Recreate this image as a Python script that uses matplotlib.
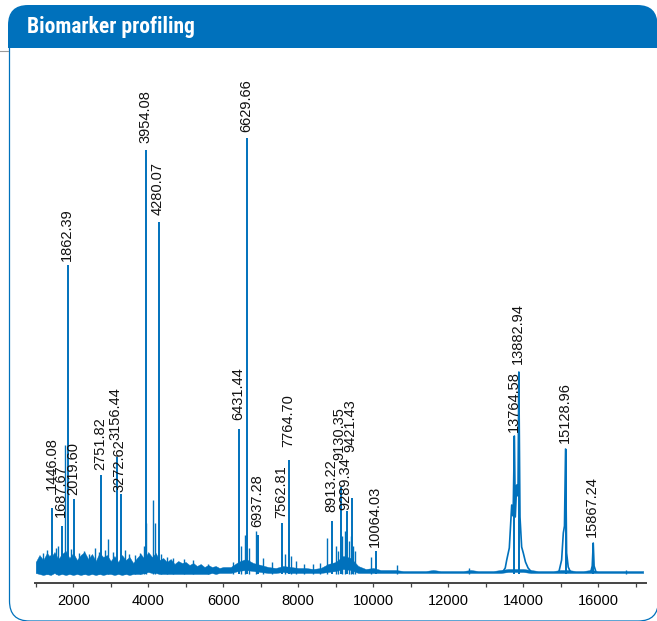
import numpy as np
import matplotlib
matplotlib.use("Agg")
import matplotlib.pyplot as plt
from matplotlib.path import Path
from matplotlib.patches import PathPatch
from matplotlib.ticker import MultipleLocator, NullFormatter
from matplotlib import font_manager

# ---------------- data ----------------
# labelled peaks: m/z and apex intensity (arbitrary units)
peak_mz = [1446.08, 1687.67, 1862.39, 2019.60, 2751.82, 3156.44, 3272.62,
           3954.08, 4280.07, 6431.44, 6629.66, 6937.28, 7562.81, 7764.70,
           8913.22, 9130.35, 9289.34, 9421.43, 10064.03, 13764.58, 13882.94,
           15128.96, 15867.24]
peak_int = [68, 50, 311, 77, 101, 119, 82,
            426, 354, 147, 438, 41, 53, 116,
            55, 89, 65, 78, 25, 140, 204,
            127, 33]

# unlabelled spikes
minor_mz = [1202, 1290, 1380, 1530, 1600, 1775, 1940, 2155, 2290, 2420, 2581,
            2680, 2860, 2935, 3050, 3380, 3500, 3654, 3781, 3880, 3935, 4130,
            4175, 4350, 4503, 4650, 4960, 5196, 5600, 6250, 6480, 6581, 6700,
            6874, 7050, 7300, 7650, 7820, 7941, 8150, 8400, 8581, 8759, 9000,
            9060, 9180, 9250, 9350, 9400, 9460, 9520, 9933, 10626, 12562, 16740]
minor_int = [23, 26, 21, 28, 30, 131, 27, 23, 25, 22, 28,
             24, 26, 37, 24, 26, 22, 21, 23, 30, 53, 76,
             53, 22, 19, 18, 17, 16, 12, 14, 30, 41, 28,
             45, 18, 14, 22, 20, 15, 12, 12, 13, 38, 30,
             25, 40, 45, 35, 40, 30, 25, 19, 11, 8, 6]

# broad peak outlines
cluster_mz = [13450, 13520, 13560, 13629, 13693, 13730, 13764.58, 13789,
              13825, 13860, 13882.94, 13914, 13958, 14002, 14060, 14130, 14220]
cluster_int = [4, 8, 16, 28, 71, 60, 140, 59, 91, 80, 204, 59, 29, 23, 14, 8, 4]
p15129_mz = [14950, 15024, 15069, 15100, 15128.96, 15157, 15200, 15260]
p15129_int = [4, 16, 43, 50, 127, 23, 9, 4]
p15867_mz = [15800, 15840, 15867.24, 15890, 15940]
p15867_int = [4, 10, 33, 10, 4]

# noise band (lower / upper envelope)
env_mz = list(range(1000, 6001, 100)) + list(range(6200, 17201, 200))
env_hi = [14, 21, 16, 23, 18, 24, 17, 22, 25, 18,
          23, 16, 21, 24, 17, 22, 15, 23, 19, 21,
          15, 20, 14, 21, 16, 19, 13, 18, 22, 17,
          24, 19, 23, 16, 18, 14, 17, 12, 15, 13,
          14, 11, 13, 10, 12, 9, 11, 9, 10, 8, 9,
          # 6200 .. 17200 step 200
          9, 14, 17, 13, 11, 9, 8, 10, 9, 8,
          8, 7, 8, 12, 14, 20, 18, 10, 7, 8,
          6, 6, 6, 5, 5, 5, 5, 6, 5, 5,
          5, 5, 6, 5, 5, 5, 6, 7, 7, 7,
          6, 5, 5, 5, 6, 6, 5, 5, 6, 5,
          5, 5, 5, 5, 5, 5]
env_lo = [3, 2, 1, 2, 1, 3, 1, 2, 1, 2,
          1, 2, 1, 2, 1, 2, 1, 2, 1, 2,
          2, 1, 2, 1, 2, 1, 2, 2, 2, 3,
          4, 3, 3, 2, 2, 2, 2, 2, 2, 2,
          2, 2, 2, 2, 2, 2, 2, 3, 2, 3, 3,
          3, 5, 6, 5, 4, 3, 3, 4, 3, 3,
          3, 3, 3, 4, 5, 7, 6, 3, 3, 3,
          3, 3, 3, 3, 3, 3, 3, 3, 3, 3,
          3, 3, 3, 3, 3, 3, 3, 4, 4, 4,
          3, 3, 3, 3, 3, 3, 3, 3, 3, 3,
          3, 3, 3, 3, 3, 3]

x_major = 2000
x_minor = 1000
title = "Biomarker profiling"

# ---------------- style ----------------
BLUE = "#0071BC"
W, H = 657, 621
names = {f.name for f in font_manager.fontManager.ttflist}
title_family = next((n for n in ["Liberation Sans Narrow", "Roboto Condensed"] if n in names), "Roboto")
text_family = ["Liberation Sans", "DejaVu Sans"]

fig = plt.figure(figsize=(W / 100, H / 100), dpi=100)

# frame overlay in pixel coordinates (y downward)
ov = fig.add_axes([0, 0, 1, 1], zorder=0)
ov.set_xlim(0, W)
ov.set_ylim(H, 0)
ov.axis("off")

x0, x1, y0, y1, r = 8, 657.5, 5, 48, 20
hdr = Path([(x0, y1), (x0, y0 + r), (x0, y0), (x0 + r, y0), (x1 - r, y0),
            (x1, y0), (x1, y0 + r), (x1, y1), (x0, y1)],
           [Path.MOVETO, Path.LINETO, Path.CURVE3, Path.CURVE3, Path.LINETO,
            Path.CURVE3, Path.CURVE3, Path.LINETO, Path.CLOSEPOLY])
ov.add_patch(PathPatch(hdr, facecolor=BLUE, edgecolor="none"))

bx0, bx1, by1, rb = 9.5, 658.3, 621, 20
brd = Path([(bx0, y1), (bx0, by1 - rb), (bx0, by1), (bx0 + rb, by1),
            (bx1 - rb, by1), (bx1, by1), (bx1, by1 - rb), (bx1, y1)],
           [Path.MOVETO, Path.LINETO, Path.CURVE3, Path.CURVE3,
            Path.LINETO, Path.CURVE3, Path.CURVE3, Path.LINETO])
ov.add_patch(PathPatch(brd, facecolor="none", edgecolor=BLUE, lw=0.9))
ov.plot([0, 8], [51, 51], color="#9a9a9a", lw=0.8)
ov.text(27, 33, title, color="white", fontsize=15.5, fontweight="bold",
        family=title_family, ha="left", va="baseline")

# main axes
ax_left, ax_right, ax_bot, ax_top = 35, 645.7, 582.7, 60
ax = fig.add_axes([ax_left / W, 1 - ax_bot / H, (ax_right - ax_left) / W,
                   (ax_bot - ax_top) / H], zorder=1)
ax.patch.set_alpha(0)
ax.set_xlim(981, 17266)
ax.set_ylim(-6.7, 516)

ax.fill_between(env_mz, env_lo, env_hi, color=BLUE, lw=0.3)
ax.vlines(minor_mz, [2] * len(minor_mz), minor_int, color=BLUE, lw=1.0)
ax.vlines(peak_mz, [2] * len(peak_mz), peak_int, color=BLUE, lw=1.4)
for mz, it in [(cluster_mz, cluster_int), (p15129_mz, p15129_int), (p15867_mz, p15867_int)]:
    ax.plot(mz, it, color=BLUE, lw=1.2)

label_gap_px = {1446.08: 18, 1687.67: 9, 1862.39: 4, 2019.60: 4, 2751.82: 5,
                3156.44: 17, 3272.62: 2, 3954.08: 7, 4280.07: 7, 6431.44: 9,
                6629.66: 6, 6937.28: 8, 7562.81: 5, 7764.70: 13, 8913.22: 9,
                9130.35: 27, 9289.34: 1, 9421.43: 46, 10064.03: 4,
                13764.58: 4, 13882.94: 8, 15128.96: 6, 15867.24: 6}
for mz, it in zip(peak_mz, peak_int):
    ax.annotate(f"{mz:.2f}", (mz, it), xytext=(-1, label_gap_px.get(mz, 5)),
                textcoords="offset pixels", rotation=90, ha="center",
                va="bottom", fontsize=10.5, family=text_family, color="#111111")

for s in ["top", "right", "left"]:
    ax.spines[s].set_visible(False)
ax.spines["bottom"].set_color("#444444")
ax.spines["bottom"].set_linewidth(1.4)
ax.yaxis.set_visible(False)
ax.xaxis.set_major_locator(MultipleLocator(x_major))
ax.xaxis.set_minor_locator(MultipleLocator(x_minor))
ax.xaxis.set_minor_formatter(NullFormatter())
ax.tick_params(axis="x", which="both", direction="out", length=3.2, width=0.9,
               color="#444444", pad=5)
ax.tick_params(axis="x", which="major", labelsize=10.5)
for lab in ax.get_xticklabels():
    lab.set_family(text_family)

fig.savefig("out.png", dpi=100)
